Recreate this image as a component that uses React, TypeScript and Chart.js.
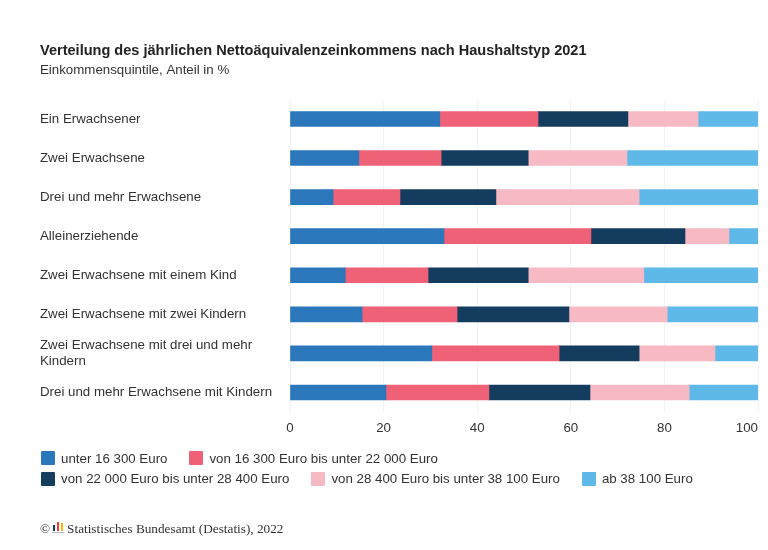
import { useEffect, useRef } from "react";
import { Chart, registerables } from "chart.js";

Chart.register(...registerables);

const categories = [
  "Ein Erwachsener",
  "Zwei Erwachsene",
  "Drei und mehr Erwachsene",
  "Alleinerziehende",
  "Zwei Erwachsene mit einem Kind",
  "Zwei Erwachsene mit zwei Kindern",
  ["Zwei Erwachsene mit drei und mehr", "Kindern"],
  "Drei und mehr Erwachsene mit Kindern",
];

const seriesNames = [
  "unter 16 300 Euro",
  "von 16 300 Euro bis unter 22 000 Euro",
  "von 22 000 Euro bis unter 28 400 Euro",
  "von 28 400 Euro bis unter 38 100 Euro",
  "ab 38 100 Euro",
];
const seriesColors = ["#2a77bb", "#ee6176", "#143c5f", "#f7bac4", "#5eb9e8"];

const unter163 = [32, 14.7, 9.2, 32.9, 11.8, 15.4, 30.3, 20.5];
const von163 = [21, 17.6, 14.3, 31.4, 17.7, 20.3, 27.2, 22];
const von220 = [19.2, 18.6, 20.5, 20.1, 21.4, 23.9, 17.1, 21.6];
const von284 = [15, 21.1, 30.6, 9.4, 24.7, 21, 16.2, 21.2];
const ab381 = [12.8, 28, 25.4, 6.2, 24.4, 19.4, 9.2, 14.7];
const seriesValues = [unter163, von163, von220, von284, ab381];

const legendRows = [
  [0, 1],
  [2, 3, 4],
];

const textColor = "#333333";
const sansFont = "'Liberation Sans', Arial, sans-serif";

export default function App() {
  const canvasRef = useRef<HTMLCanvasElement>(null);

  useEffect(() => {
    if (!canvasRef.current) return;

    const chart = new Chart(canvasRef.current, {
      type: "bar",
      data: {
        labels: categories,
        datasets: seriesNames.map((name, i) => ({
          label: name,
          data: seriesValues[i],
          backgroundColor: seriesColors[i],
          barThickness: 15,
        })),
      },
      options: {
        indexAxis: "y",
        responsive: false,
        animation: false,
        layout: { padding: { left: 40, right: 10, top: 42, bottom: 106 } },
        font: { family: sansFont },
        plugins: {
          title: {
            display: true,
            text: "Verteilung des jährlichen Nettoäquivalenzeinkommens nach Haushaltstyp 2021",
            align: "start",
            color: "#222222",
            font: { family: sansFont, size: 14.55, weight: "bold" },
            padding: { top: 0, bottom: 3 },
          },
          subtitle: {
            display: true,
            text: "Einkommensquintile, Anteil in %",
            align: "start",
            color: textColor,
            font: { family: sansFont, size: 13.3, weight: "normal" },
            padding: { top: 0, bottom: 21 },
          },
          legend: { display: false },
          tooltip: { enabled: false },
        },
        scales: {
          x: {
            stacked: true,
            min: 0,
            max: 100,
            grid: { color: "#f2f3f5", drawTicks: false },
            border: { display: false },
            afterFit: (scale) => {
              scale.paddingLeft = 0;
              scale.paddingRight = 0;
            },
            ticks: {
              stepSize: 20,
              maxRotation: 0,
              color: textColor,
              padding: 8,
              font: { family: sansFont, size: 13.3 },
              // last label sits inside the plot edge in the original
              callback: (v) => (v === 100 ? "100\u00a0\u00a0\u00a0\u00a0\u00a0\u00a0" : String(v)),
            },
          },
          y: {
            stacked: true,
            grid: { display: false },
            border: { display: false },
            afterFit: (scale) => {
              scale.width = 250;
            },
            ticks: {
              crossAlign: "far",
              color: textColor,
              autoSkip: false,
              font: { family: sansFont, size: 13.3, lineHeight: 1.2 },
            },
          },
        },
      },
    });

    return () => chart.destroy();
  }, []);

  return (
    <div style={{ position: "absolute", left: 0, top: 0, width: 768, height: 550, background: "#fff" }}>
      <canvas ref={canvasRef} width={768} height={550} style={{ display: "block" }} />
      <div style={{ position: "absolute", left: 41, top: 448, fontFamily: sansFont, fontSize: 13.3, color: textColor }}>
        {legendRows.map((row, r) => (
          <div key={r} style={{ display: "flex", gap: 22, height: 20.5, alignItems: "center", whiteSpace: "nowrap" }}>
            {row.map((i) => (
              <span key={i} style={{ display: "flex", alignItems: "center", gap: 6 }}>
                <span style={{ width: 14, height: 14, borderRadius: 1, background: seriesColors[i] }} />
                {seriesNames[i]}
              </span>
            ))}
          </div>
        ))}
      </div>
      <div
        style={{
          position: "absolute",
          left: 40,
          top: 521,
          fontFamily: "'Liberation Serif', serif",
          fontSize: 13.25,
          lineHeight: "16px",
          color: "#333",
          whiteSpace: "nowrap",
        }}
      >
        ©
        <svg width="12" height="12" style={{ margin: "0 3px 0 2px" }}>
          <rect x="1" y="4" width="2" height="6" fill="#143c5f" />
          <rect x="5" y="1" width="2" height="9" fill="#e8402a" />
          <rect x="9" y="2" width="2" height="8" fill="#f2b705" />
          <rect x="0" y="11" width="12" height="1" fill="#bbb" />
        </svg>
        Statistisches Bundesamt (Destatis), 2022
      </div>
    </div>
  );
}
